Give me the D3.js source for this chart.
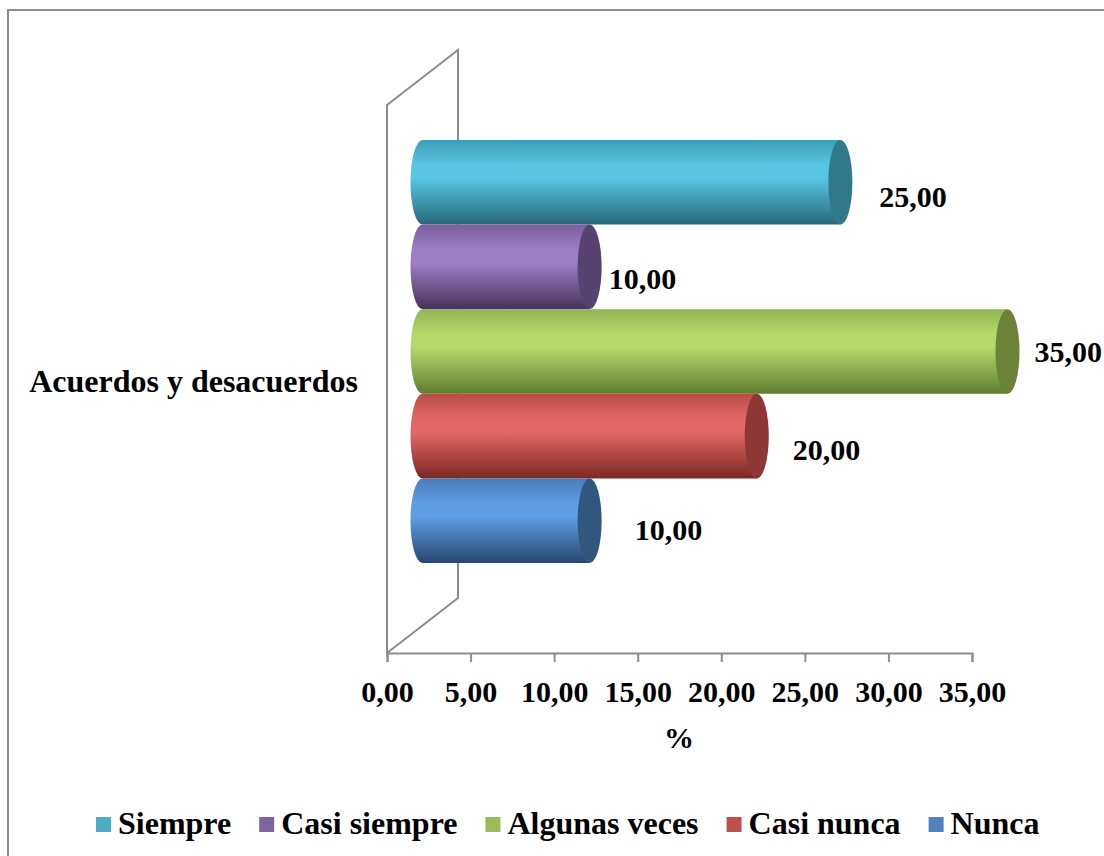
<!DOCTYPE html>
<html>
<head>
<meta charset="utf-8">
<script src="https://cdn.jsdelivr.net/npm/d3@7"></script>
<style>
  html, body { margin: 0; padding: 0; background: #fff; }
  svg text { font-family: "Liberation Serif", "Times New Roman", serif; font-weight: bold; fill: #000; }
</style>
</head>
<body>
<svg id="chart" width="1104" height="856"></svg>
<script>
// Data
const category = "Acuerdos y desacuerdos";
const seriesNames = ["Siempre", "Casi siempre", "Algunas veces", "Casi nunca", "Nunca"];
const seriesValues = [25, 10, 35, 20, 10];
const tickValues = [0, 5, 10, 15, 20, 25, 30, 35];
const axisTitle = "%";

// Colours per series: legend swatch, light body tone, mid tone, dark tone, end cap
const swatch = ["#4bacc6", "#8064a2", "#9bbb59", "#c0504d", "#4f81bd"];
const bodyLight = ["#58c6e3", "#9d7ec6", "#b4d86c", "#e26765", "#5d9de3"];
const bodyMid = ["#3d9db5", "#7a5f9c", "#92b455", "#b84d4a", "#4a7cbb"];
const bodyDark = ["#26697a", "#45335a", "#5f7d2f", "#7d2826", "#27476f"];
const capColor = ["#31788a", "#57436f", "#6b8238", "#8e3836", "#31577f"];
// Fine placement of value labels relative to each bar end [dx, dy]
const labelShift = [[27, 25], [7, 22], [15, 10], [24, 24], [33, 19]];

const fmt = v => d3.format(".2f")(v).replace(".", ",");
const fontSize = 30;
const bigFont = 32;

const svg = d3.select("#chart");
const defs = svg.append("defs");

// Plot geometry (front plane) and 3D depth offset
const plot = { left: 387, right: 972, top: 105, bottom: 653 };
const depth = { dx: 71, dy: -55 };
const mid = { dx: depth.dx / 2, dy: depth.dy / 2 };
const capRx = 12;
const gray = "#8c8c8c";

const x = d3.scaleLinear().domain([0, 35]).range([plot.left, plot.right]);

// Outer chart border
svg.append("rect")
  .attr("x", 8).attr("y", 10).attr("width", 1300).attr("height", 1000)
  .attr("fill", "none").attr("stroke", gray).attr("stroke-width", 2);

// Side wall outline with back edge
const walls = svg.append("g").attr("stroke", gray).attr("stroke-width", 2).attr("fill", "none");
walls.append("path").attr("d",
  `M${plot.left},${plot.top} L${plot.left + depth.dx},${plot.top + depth.dy} L${plot.left + depth.dx},${plot.bottom + depth.dy} L${plot.left},${plot.bottom} Z`);

// Axis
const axisG = svg.append("g").attr("transform", `translate(0,${plot.bottom})`);
axisG.call(d3.axisBottom(x).tickValues(tickValues).tickSize(9).tickPadding(12).tickFormat(fmt));
axisG.select(".domain").attr("stroke", gray).attr("stroke-width", 2);
axisG.selectAll(".tick line").attr("stroke", gray).attr("stroke-width", 2);
axisG.selectAll(".tick text").attr("font-size", fontSize).attr("dy", null).attr("y", 49);

svg.append("text").attr("x", (plot.left + plot.right) / 2 - 0.5).attr("y", 748)
  .attr("text-anchor", "middle").attr("font-size", fontSize).text(axisTitle);

// Category label
const catCenter = (plot.top + plot.bottom) / 2;
svg.append("text").attr("x", 358).attr("y", catCenter + 13)
  .attr("text-anchor", "end").attr("font-size", bigFont).text(category);

// Bars as cylinders at mid depth
const innerFrac = 0.772;
const bandTop = catCenter + mid.dy - (plot.bottom - plot.top) * innerFrac / 2;
const bandBottom = catCenter + mid.dy + (plot.bottom - plot.top) * innerFrac / 2;
const y = d3.scaleBand().domain(seriesNames).range([bandTop, bandBottom]).padding(0);

seriesNames.forEach((name, i) => {
  const top = y(name), h = y.bandwidth(), bot = top + h;
  const g = defs.append("linearGradient").attr("id", "grad" + i)
    .attr("gradientUnits", "userSpaceOnUse")
    .attr("x1", 0).attr("x2", 0).attr("y1", top).attr("y2", bot);
  g.append("stop").attr("offset", "0%").attr("stop-color", bodyMid[i]);
  g.append("stop").attr("offset", "30%").attr("stop-color", bodyLight[i]);
  g.append("stop").attr("offset", "45%").attr("stop-color", bodyLight[i]);
  g.append("stop").attr("offset", "100%").attr("stop-color", bodyDark[i]);
});

const bars = svg.append("g").selectAll("g.bar")
  .data(seriesNames.map((n, i) => ({ name: n, value: seriesValues[i], i })))
  .join("g").attr("class", "bar");

bars.append("path")
  .attr("fill", d => `url(#grad${d.i})`)
  .attr("d", d => {
    const x0 = x(0) + mid.dx, x1 = x(d.value) + mid.dx;
    const top = y(d.name), bot = top + y.bandwidth(), ry = y.bandwidth() / 2;
    return `M${x0},${top} L${x1},${top} L${x1},${bot} L${x0},${bot} A${capRx},${ry} 0 0 1 ${x0},${top} Z`;
  });

bars.append("ellipse")
  .attr("cx", d => x(d.value) + mid.dx)
  .attr("cy", d => y(d.name) + y.bandwidth() / 2)
  .attr("rx", capRx)
  .attr("ry", y.bandwidth() / 2)
  .attr("fill", d => capColor[d.i]);

// Value labels
bars.append("text")
  .attr("x", d => x(d.value) + mid.dx + capRx + labelShift[d.i][0])
  .attr("y", d => y(d.name) + y.bandwidth() / 2 + labelShift[d.i][1])
  .attr("font-size", fontSize)
  .text(d => fmt(d.value));

// Legend
const legend = svg.append("g").attr("transform", "translate(0,834)");
let lx = 96;
seriesNames.forEach((name, i) => {
  legend.append("rect").attr("x", lx).attr("y", -17).attr("width", 15).attr("height", 15).attr("fill", swatch[i]);
  const t = legend.append("text").attr("x", lx + 22).attr("y", 0).attr("font-size", bigFont).text(name);
  lx += 22 + t.node().getComputedTextLength() + 28;
});
</script>
</body>
</html>
